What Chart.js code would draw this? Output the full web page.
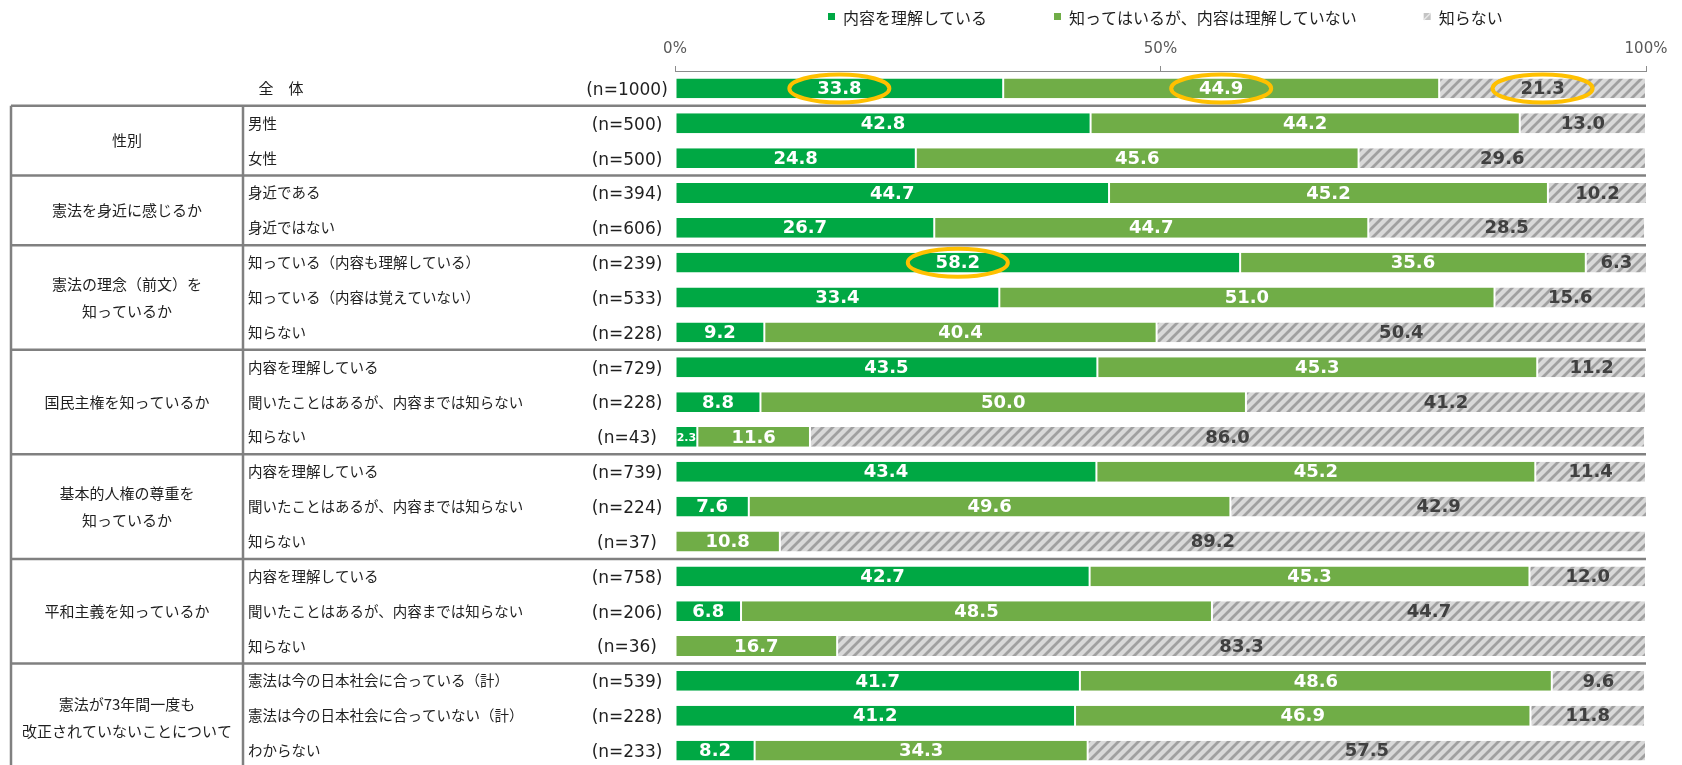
<!DOCTYPE html>
<html lang="ja">
<head>
<meta charset="utf-8">
<title>憲法の理解度</title>
<script src="https://cdn.jsdelivr.net/npm/chart.js@4/dist/chart.umd.min.js"></script>
<style>
  html, body { margin: 0; padding: 0; background: #fff; overflow: hidden; }
  canvas { display: block; }
</style>
</head>
<body>
<canvas id="chart" width="1682" height="768"></canvas>
<script>
// 行ラベルとサンプル数
const rowLabels = [
  '全　体',
  '男性', '女性',
  '身近である', '身近ではない',
  '知っている（内容も理解している）', '知っている（内容は覚えていない）', '知らない',
  '内容を理解している', '聞いたことはあるが、内容までは知らない', '知らない',
  '内容を理解している', '聞いたことはあるが、内容までは知らない', '知らない',
  '内容を理解している', '聞いたことはあるが、内容までは知らない', '知らない',
  '憲法は今の日本社会に合っている（計）', '憲法は今の日本社会に合っていない（計）', 'わからない'
];
const sampleSizes = [1000, 500, 500, 394, 606, 239, 533, 228, 729, 228, 43, 739, 224, 37, 758, 206, 36, 539, 228, 233];

// 左側の区分（開始行〜終了行）
const groups = [
  { lines: ['性別'], from: 1, to: 2 },
  { lines: ['憲法を身近に感じるか'], from: 3, to: 4 },
  { lines: ['憲法の理念（前文）を', '知っているか'], from: 5, to: 7 },
  { lines: ['国民主権を知っているか'], from: 8, to: 10 },
  { lines: ['基本的人権の尊重を', '知っているか'], from: 11, to: 13 },
  { lines: ['平和主義を知っているか'], from: 14, to: 16 },
  { lines: ['憲法が73年間一度も', '改正されていないことについて'], from: 17, to: 19, shift: 2 }
];

const seriesNames = ['内容を理解している', '知ってはいるが、内容は理解していない', '知らない'];
const understand = [33.8, 42.8, 24.8, 44.7, 26.7, 58.2, 33.4, 9.2, 43.5, 8.8, 2.3, 43.4, 7.6, 0, 42.7, 6.8, 0, 41.7, 41.2, 8.2];
const knowOnly   = [44.9, 44.2, 45.6, 45.2, 44.7, 35.6, 51.0, 40.4, 45.3, 50.0, 11.6, 45.2, 49.6, 10.8, 45.3, 48.5, 16.7, 48.6, 46.9, 34.3];
const notKnow    = [21.3, 13.0, 29.6, 10.2, 28.5, 6.3, 15.6, 50.4, 11.2, 41.2, 86.0, 11.4, 42.9, 89.2, 12.0, 44.7, 83.3, 9.6, 11.8, 57.5];

// 丸で囲む値 [行, 系列]
const highlights = [[0, 0], [0, 1], [0, 2], [5, 0]];

const jp = '"Noto Sans CJK JP", sans-serif';
const latin = '"DejaVu Sans", Verdana, sans-serif';
const textColor = '#1f1f1f';

const ctx = document.getElementById('chart').getContext('2d');

function makeHatch() {
  const s = 10;
  const c = document.createElement('canvas');
  c.width = s; c.height = s;
  const g = c.getContext('2d');
  g.fillStyle = '#d9d9d9';
  g.fillRect(0, 0, s, s);
  g.strokeStyle = '#a0a0a0';
  g.lineWidth = 2.8;
  g.beginPath();
  g.moveTo(-1, s + 1); g.lineTo(s + 1, -1);
  g.moveTo(-1, 1); g.lineTo(1, -1);
  g.moveTo(s - 1, s + 1); g.lineTo(s + 1, s - 1);
  g.stroke();
  return ctx.createPattern(c, 'repeat');
}
const hatch = makeHatch();
const colors = ['#00a844', '#70ad47', hatch];

const tablePlugin = {
  id: 'table',
  beforeDatasetsDraw(chart) {
    const { ctx, chartArea, scales: { y } } = chart;
    const rowH = y.getPixelForValue(1) - y.getPixelForValue(0);
    ctx.save();
    ctx.strokeStyle = '#808080';
    ctx.lineWidth = 2.5;
    groups.forEach(g => {
      const top = y.getPixelForValue(g.from) - rowH / 2;
      ctx.beginPath();
      ctx.moveTo(11, top);
      ctx.lineTo(chartArea.right, top);
      ctx.stroke();
    });
    const top0 = y.getPixelForValue(1) - rowH / 2;
    ctx.beginPath();
    ctx.moveTo(11, top0); ctx.lineTo(11, chart.height);
    ctx.moveTo(243, top0); ctx.lineTo(243, chart.height);
    ctx.stroke();

    ctx.fillStyle = textColor;
    ctx.textBaseline = 'middle';
    // 区分ラベル
    ctx.font = '15px ' + jp;
    ctx.textAlign = 'center';
    groups.forEach(g => {
      const mid = (y.getPixelForValue(g.from) + y.getPixelForValue(g.to)) / 2 + (g.shift || 0);
      const lh = 27;
      g.lines.forEach((t, k) => {
        ctx.fillText(t, 127, mid + (k - (g.lines.length - 1) / 2) * lh);
      });
    });
    // 行ラベル
    rowLabels.forEach((t, i) => {
      const py = y.getPixelForValue(i);
      if (i === 0) {
        ctx.font = '15px ' + jp;
        ctx.textAlign = 'center';
        ctx.fillText(t, 281, py);
      } else {
        ctx.font = '14.5px ' + jp;
        ctx.textAlign = 'left';
        ctx.fillText(t, 248, py);
      }
      ctx.font = '17px ' + latin;
      ctx.textAlign = 'center';
      ctx.fillText('(n=' + sampleSizes[i] + ')', 627, py + 2);
    });
    ctx.restore();
  },
  afterDatasetsDraw(chart) {
    const ctx = chart.ctx;
    ctx.save();
    ctx.textAlign = 'center';
    ctx.textBaseline = 'middle';
    chart.data.datasets.forEach((ds, i) => {
      const meta = chart.getDatasetMeta(i);
      meta.data.forEach((bar, j) => {
        const v = ds.data[j];
        if (!v) return;
        const cx = (bar.x + bar.base) / 2;
        ctx.font = 'bold ' + (v < 5 ? 11 : 18) + 'px ' + latin;
        ctx.fillStyle = i < 2 ? '#ffffff' : '#404040';
        ctx.fillText(v.toFixed(1), cx, bar.y + 1);
      });
    });
    ctx.strokeStyle = '#ffc000';
    ctx.lineWidth = 4;
    highlights.forEach(([row, s]) => {
      const bar = chart.getDatasetMeta(s).data[row];
      const cx = (bar.x + bar.base) / 2;
      ctx.beginPath();
      ctx.ellipse(cx, bar.y, 50, 14, 0, 0, Math.PI * 2);
      ctx.stroke();
    });
    ctx.restore();
  },
  afterDraw(chart) {
    const ctx = chart.ctx;
    ctx.save();
    ctx.font = '16px ' + jp;
    ctx.textBaseline = 'middle';
    ctx.textAlign = 'left';
    let x = 828;
    const y = 18;
    seriesNames.forEach((name, i) => {
      if (i < 2) {
        ctx.fillStyle = colors[i];
        ctx.fillRect(x, y - 5, 7, 7);
      } else {
        ctx.fillStyle = '#c4c4c4';
        ctx.fillRect(x, y - 5, 7, 7);
        ctx.strokeStyle = '#e8e8e8';
        ctx.lineWidth = 1.5;
        ctx.beginPath();
        ctx.moveTo(x, y + 2); ctx.lineTo(x + 7, y - 5);
        ctx.stroke();
      }
      ctx.fillStyle = textColor;
      ctx.fillText(name, x + 15, y);
      x += 15 + ctx.measureText(name).width + 67;
    });
    ctx.restore();
  }
};

new Chart(ctx, {
  type: 'bar',
  data: {
    labels: rowLabels,
    datasets: [
      { label: seriesNames[0], data: understand, backgroundColor: colors[0] },
      { label: seriesNames[1], data: knowOnly, backgroundColor: colors[1] },
      { label: seriesNames[2], data: notKnow, backgroundColor: colors[2] }
    ].map(d => Object.assign(d, {
      borderColor: '#ffffff',
      borderWidth: { left: 1, right: 1, top: 0, bottom: 0 },
      borderSkipped: false,
      barPercentage: 0.57,
      categoryPercentage: 1.0
    }))
  },
  options: {
    indexAxis: 'y',
    responsive: false,
    animation: false,
    layout: { padding: { left: 675, right: 36, top: 0, bottom: 0 } },
    plugins: {
      legend: { display: false },
      tooltip: { enabled: false }
    },
    scales: {
      x: {
        position: 'top',
        stacked: true,
        min: 0,
        max: 100,
        afterFit(scale) { scale.height = 71; },
        ticks: {
          stepSize: 50,
          padding: 8,
          color: '#595959',
          font: { family: latin, size: 15 },
          callback: v => v + '%'
        },
        grid: { drawOnChartArea: false, drawTicks: true, tickLength: 5, color: '#8c8c8c' },
        border: { display: true, color: '#8c8c8c', width: 1 }
      },
      y: {
        stacked: true,
        display: false
      }
    }
  },
  plugins: [tablePlugin]
});
</script>
</body>
</html>
